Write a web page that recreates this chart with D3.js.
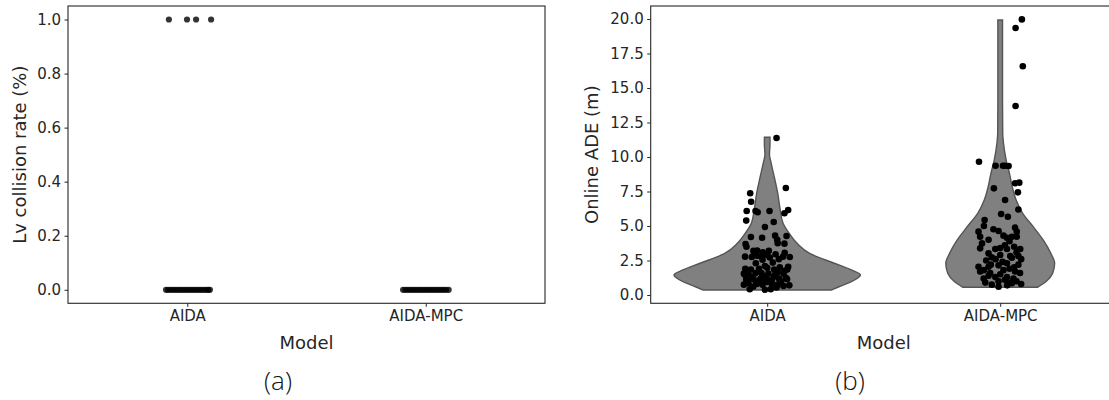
<!DOCTYPE html>
<html>
<head>
<meta charset="utf-8">
<script src="https://cdn.jsdelivr.net/npm/d3@7"></script>
<style>
  body { margin: 0; background: #fff; }
  svg text { font-family: "DejaVu Sans", sans-serif; fill: #262626; }
  svg .caption { font-family: "Open Sans", sans-serif; font-weight: 300; fill: #111; }
</style>
</head>
<body>
<div id="chart"></div>
<script>
const models = ["AIDA", "AIDA-MPC"];

// (a) collision rate, values and strip jitter (category units)
const collisionAida = [1, 1, 1, 1,
  0, 0, 0, 0, 0, 0, 0, 0, 0, 0, 0, 0, 0, 0, 0, 0, 0, 0, 0, 0];
const collisionAidaJitter = [-0.077, -0.001, 0.037, 0.1,
  -0.089, -0.08, -0.07, -0.06, -0.05, -0.04, -0.03, -0.02, -0.01, 0.0,
  0.01, 0.02, 0.03, 0.04, 0.05, 0.06, 0.07, 0.08, 0.088, 0.095];
const collisionMpc = [0, 0, 0, 0, 0, 0, 0, 0, 0, 0, 0, 0, 0, 0, 0, 0, 0, 0, 0, 0];
const collisionMpcJitter = [-0.095, -0.085, -0.075, -0.065, -0.055, -0.045, -0.035,
  -0.025, -0.015, -0.005, 0.005, 0.015, 0.025, 0.035, 0.045, 0.055, 0.065, 0.075,
  0.085, 0.096];
const collisionTicks = [0, 0.2, 0.4, 0.6, 0.8, 1.0];

// (b) online ADE points: [value, jitter]
const adeAida = [
  [11.38, 0.04], [7.75, 0.08], [7.37, -0.073], [6.76, -0.069], [6.09, -0.088],
  [6.09, -0.05], [6.0, -0.041], [6.09, 0.01], [6.16, 0.09], [5.92, 0.074],
  [5.39, -0.09], [5.29, 0.028], [4.93, -0.01], [4.2, -0.07], [4.15, -0.022],
  [4.3, 0.034], [4.0, 0.043], [4.28, 0.083], [3.7, -0.093], [3.5, -0.089],
  [3.75, 0.045], [3.72, 0.074], [3.2, -0.059], [3.22, -0.043], [3.1, -0.019],
  [3.2, 0.007], [2.85, -0.043], [2.95, -0.057], [2.9, 0.0], [2.95, 0.036],
  [3.05, 0.075], [2.78, -0.095], [2.75, -0.066], [2.78, -0.023], [2.72, 0.011],
  [2.78, 0.068], [2.75, 0.097], [2.3, -0.049], [2.35, 0.024], [1.9, -0.094],
  [1.85, -0.07], [1.9, -0.035], [1.97, 0.0], [2.0, 0.054], [2.05, 0.09],
  [1.85, 0.086], [1.55, -0.1], [1.5, -0.08], [1.6, -0.05], [1.6, -0.025],
  [1.55, 0.005], [1.5, 0.035], [1.55, 0.07], [1.1, -0.09], [1.2, -0.065],
  [1.15, -0.03], [1.2, -0.005], [1.1, 0.02], [1.2, 0.05], [1.15, 0.085],
  [0.75, -0.1], [0.85, -0.08], [0.8, -0.045], [0.75, -0.02], [0.8, 0.02],
  [0.75, 0.045], [0.7, 0.095], [0.42, -0.075], [0.38, -0.01], [0.42, 0.015],
  [1.3, -0.06], [1.4, -0.02], [1.35, 0.03], [1.0, -0.05], [0.95, 0.0],
  [1.0, 0.06], [1.7, -0.085], [1.75, 0.075], [2.1, -0.01], [0.6, -0.06],
  [0.55, 0.04], [1.25, 0.08], [1.45, -0.095], [1.85, 0.03], [0.9, -0.025],
  [0.65, 0.07], [1.65, 0.045], [2.55, -0.02], [2.6, 0.05]
];
const adeMpc = [
  [19.97, 0.093], [19.35, 0.066], [16.57, 0.097], [13.7, 0.066], [9.66, -0.091],
  [9.37, -0.02], [9.37, 0.012], [9.37, 0.021], [9.35, 0.036], [7.73, -0.027],
  [8.1, 0.064], [8.14, 0.082], [7.44, 0.076], [6.88, 0.021], [6.2, 0.078],
  [5.87, 0.004], [5.67, 0.033], [5.43, -0.067], [5.0, -0.07], [4.76, -0.029],
  [4.64, -0.007], [4.88, 0.064], [4.59, 0.071], [4.59, -0.093], [4.22, -0.086],
  [4.3, 0.014], [4.15, 0.029], [4.22, 0.05], [4.22, 0.071], [3.74, -0.078],
  [3.38, -0.086], [3.33, -0.021], [3.33, 0.029], [3.33, 0.086], [2.83, 0.043],
  [2.83, 0.078], [2.9, 0.0], [2.73, -0.036], [3.02, -0.05], [2.05, -0.093],
  [2.05, -0.05], [2.15, -0.007], [2.3, 0.029], [2.2, 0.078], [2.6, 0.09],
  [1.7, -0.086], [1.6, -0.043], [1.8, 0.014], [1.7, 0.064], [1.2, -0.071],
  [1.3, -0.021], [1.3, 0.029], [1.2, 0.057], [0.9, -0.064], [1.0, -0.007],
  [0.9, 0.043], [0.6, -0.007], [0.8, 0.09], [0.75, -0.036], [3.6, 0.02],
  [3.5, 0.06], [2.5, -0.06], [2.4, 0.01], [2.6, -0.02], [1.9, 0.04],
  [1.5, 0.0], [1.4, -0.05], [1.1, 0.02], [1.0, 0.07], [2.0, 0.06],
  [3.9, 0.04], [3.1, 0.07], [2.2, -0.04], [1.8, -0.07], [0.7, 0.03],
  [1.6, 0.085], [2.7, 0.05], [3.4, 0.0], [4.0, -0.05], [0.85, 0.05]
];
// violin outlines: [value, relative density]
const violinAida = [
  [0.36, 0.686], [0.6, 0.77], [0.9, 0.88], [1.2, 0.965], [1.45, 1.0],
  [1.8, 0.91], [2.3, 0.72], [3.0, 0.46], [3.75, 0.32], [4.47, 0.236],
  [5.2, 0.17], [6.16, 0.14], [7.37, 0.113], [8.57, 0.075], [9.54, 0.043],
  [10.2, 0.024], [10.9, 0.03], [11.43, 0.03]
];
const violinMpc = [
  [0.56, 0.40], [0.96, 0.49], [1.57, 0.563], [2.3, 0.584], [3.02, 0.543],
  [3.99, 0.461], [4.95, 0.354], [5.92, 0.241], [6.88, 0.171], [7.85, 0.129],
  [8.8, 0.10], [9.78, 0.064], [11.0, 0.035], [11.7, 0.027], [14.0, 0.025],
  [17.0, 0.025], [19.93, 0.025]
];
const adeTicks = [0, 2.5, 5, 7.5, 10, 12.5, 15, 17.5, 20];

const width = 1109;
const height = 400;

const svg = d3.select("#chart").append("svg")
  .attr("width", width)
  .attr("height", height);

function panel(box, yDomain, ticks) {
  const x = d3.scaleLinear().domain([-0.5, 1.5]).range([box.left, box.right]);
  const y = d3.scaleLinear().domain(yDomain).range([box.bottom, box.top]);

  const yAxis = svg.append("g")
    .attr("transform", `translate(${box.left},0)`)
    .call(d3.axisLeft(y).tickValues(ticks).tickFormat(d3.format(".1f")).tickSize(3.5).tickPadding(3.5));
  const xAxis = svg.append("g")
    .attr("transform", `translate(0,${box.bottom})`)
    .call(d3.axisBottom(x).tickValues([0, 1]).tickFormat((i) => models[i]).tickSize(3.5).tickPadding(4));
  [xAxis, yAxis].forEach((g) => {
    g.select(".domain").remove();
    g.selectAll(".tick line").attr("stroke", "#262626").attr("stroke-width", 1);
    g.selectAll(".tick text").attr("font-size", 15).attr("fill", "#262626")
      .attr("font-family", "DejaVu Sans");
  });
  return { x, y };
}

function frame(box) {
  svg.append("rect")
    .attr("x", box.left).attr("y", box.top)
    .attr("width", box.right - box.left).attr("height", box.bottom - box.top)
    .attr("fill", "none").attr("stroke", "#262626").attr("stroke-width", 1.1);
}

// ---- (a)
const boxA = { left: 68, right: 545, top: 6, bottom: 303.3 };
const a = panel(boxA, [-0.05, 1.05], collisionTicks);

const stripA = [
  ...collisionAida.map((v, i) => ({ cat: 0, v, j: collisionAidaJitter[i] })),
  ...collisionMpc.map((v, i) => ({ cat: 1, v, j: collisionMpcJitter[i] })),
];
svg.append("g").selectAll("circle")
  .data(stripA)
  .enter().append("circle")
  .attr("cx", (d) => a.x(d.cat + d.j))
  .attr("cy", (d) => a.y(d.v))
  .attr("r", 3.1)
  .attr("fill", "#000")
  .attr("fill-opacity", 0.8);
frame(boxA);

svg.append("text")
  .attr("transform", `translate(25.5,${(boxA.top + boxA.bottom) / 2}) rotate(-90)`)
  .attr("text-anchor", "middle").attr("font-size", 18)
  .text("Lv collision rate (%)");
svg.append("text")
  .attr("x", (boxA.left + boxA.right) / 2).attr("y", 349)
  .attr("text-anchor", "middle").attr("font-size", 18)
  .text("Model");
svg.append("text").attr("class", "caption")
  .attr("x", 278).attr("y", 390)
  .attr("text-anchor", "middle").attr("font-size", 26)
  .text("(a)");

// ---- (b)
const boxB = { left: 650.7, right: 1116.7, top: 6, bottom: 303.3 };
const b = panel(boxB, [-0.6, 20.94], adeTicks);
const w = d3.scaleLinear().domain([0, 1]).range([0, b.x(0.4) - b.x(0)]);

[violinAida, violinMpc].forEach((profile, i) => {
  const area = d3.area()
    .curve(d3.curveMonotoneY)
    .y((d) => b.y(d[0]))
    .x0((d) => b.x(i) - w(d[1]))
    .x1((d) => b.x(i) + w(d[1]));
  svg.append("path")
    .datum(profile)
    .attr("d", area)
    .attr("fill", "#808080")
    .attr("stroke", "#555")
    .attr("stroke-width", 1.4);
});

[adeAida, adeMpc].forEach((pts, i) => {
  svg.append("g").selectAll("circle")
    .data(pts)
    .enter().append("circle")
    .attr("cx", (d) => b.x(i + d[1]))
    .attr("cy", (d) => b.y(d[0]))
    .attr("r", 3.3)
    .attr("fill", "#000");
});
frame(boxB);

svg.append("text")
  .attr("transform", `translate(598,${(boxB.top + boxB.bottom) / 2}) rotate(-90)`)
  .attr("text-anchor", "middle").attr("font-size", 18)
  .text("Online ADE (m)");
svg.append("text")
  .attr("x", (boxB.left + boxB.right) / 2).attr("y", 349)
  .attr("text-anchor", "middle").attr("font-size", 18)
  .text("Model");
svg.append("text").attr("class", "caption")
  .attr("x", 850).attr("y", 390)
  .attr("text-anchor", "middle").attr("font-size", 26)
  .text("(b)");
</script>
</body>
</html>
